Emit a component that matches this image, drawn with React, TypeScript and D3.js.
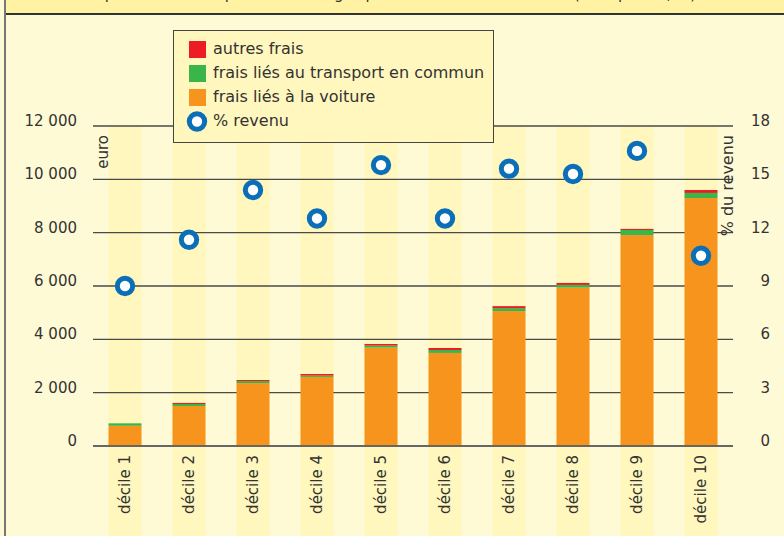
import * as d3 from 'd3'

const deciles = ['décile 1', 'décile 2', 'décile 3', 'décile 4', 'décile 5', 'décile 6', 'décile 7', 'décile 8', 'décile 9', 'décile 10']
const fraisVoiture = [760, 1500, 2360, 2590, 3690, 3490, 5060, 5940, 7910, 9300]
const fraisTransportCommun = [90, 75, 75, 50, 75, 110, 110, 100, 190, 190]
const autresFrais = [0, 40, 40, 60, 60, 75, 75, 75, 40, 110]
const pctRevenu = [9.0, 11.6, 14.4, 12.8, 15.8, 12.8, 15.6, 15.3, 16.6, 10.7]

const euroTicks = [0, 2000, 4000, 6000, 8000, 10000, 12000]
const pctTicks = [0, 3, 6, 9, 12, 15, 18]

const seriesKeys = ['voiture', 'commun', 'autres']
const seriesColors: Record<string, string> = { voiture: '#F7941E', commun: '#39B54A', autres: '#ED1C24' }
const legendItems = [
  { label: 'autres frais', color: '#ED1C24' },
  { label: 'frais liés au transport en commun', color: '#39B54A' },
  { label: 'frais liés à la voiture', color: '#F7941E' }
]

const W = 784
const H = 536
const FONT = "'DejaVu Sans', Verdana, sans-serif"
const BLUE = '#0B6FB8'

const fr = d3.formatLocale({ decimal: ',', thousands: '\u00a0', grouping: [3], currency: ['', ' €'] })
const fmt = fr.format(',')

export default function App() {
  const margin = { left: 93, right: 51, top: 126, bottom: 90 }
  const x = d3.scaleBand<string>()
    .domain(deciles)
    .range([margin.left, W - margin.right])
    .paddingInner(0.484)
    .paddingOuter(0.242)
  const y = d3.scaleLinear().domain([0, 12000]).range([H - margin.bottom, margin.top])
  const y2 = d3.scaleLinear().domain([0, 18]).range([H - margin.bottom, margin.top])

  const rows = deciles.map((d, i) => ({
    decile: d,
    voiture: fraisVoiture[i],
    commun: fraisTransportCommun[i],
    autres: autresFrais[i]
  }))
  const stacked = d3.stack<any>().keys(seriesKeys)(rows)

  return (
    <svg width={W} height={H} style={{ position: 'absolute', left: 0, top: 0, fontFamily: FONT }}>
      <rect x={0} y={0} width={W} height={H} fill="#FFFAD6" />
      {/* title band, cut off at the top in the original */}
      <rect x={5} y={0} width={W - 5} height={14} fill="#FFF3A3" />
      <text x={390} y={-1.5} textAnchor="middle" fontSize={15} fill="#333">
        Dépenses de transport des ménages par décile de niveau de vie (euro par an, %)
      </text>
      <line x1={5} x2={W} y1={14} y2={14} stroke="#333" strokeWidth={2} />
      <line x1={5} x2={5} y1={0} y2={H} stroke="#777" strokeWidth={2} />

      {/* decile stripes */}
      {deciles.map(d => (
        <rect key={d} x={x(d)} y={margin.top} width={x.bandwidth()} height={H - margin.top} fill="#FFF7BE" />
      ))}

      {/* grid */}
      {euroTicks.map(t => (
        <g key={t}>
          <line x1={margin.left} x2={W - margin.right} y1={y(t)} y2={y(t)}
            stroke={t === 0 ? '#666' : '#4a4a4a'} strokeWidth={t === 0 ? 2 : 1.4} />
          <text x={77} y={y(t)} textAnchor="end" fontSize={15} fill="#333">{fmt(t)}</text>
        </g>
      ))}
      {pctTicks.map(t => (
        <text key={t} x={770} y={y2(t)} textAnchor="end" fontSize={15} fill="#333">{t}</text>
      ))}

      {/* bars */}
      {stacked.map(s => (
        <g key={s.key} fill={seriesColors[s.key]}>
          {s.map((p, i) => (
            <rect key={i} x={x(deciles[i])} y={y(p[1])} width={x.bandwidth()} height={Math.max(0, y(p[0]) - y(p[1]))} />
          ))}
        </g>
      ))}
      <line x1={margin.left} x2={W - margin.right} y1={y(0)} y2={y(0)} stroke="#666" strokeWidth={2} />

      {/* % revenu markers */}
      {pctRevenu.map((v, i) => (
        <circle key={i} cx={(x(deciles[i]) ?? 0) + x.bandwidth() / 2} cy={y2(v)} r={7.7}
          fill="#fff" stroke={BLUE} strokeWidth={5} />
      ))}

      {/* axis titles */}
      <text transform={`translate(${103 + 5},135) rotate(-90)`} textAnchor="end" fontSize={15} fill="#333">euro</text>
      <text transform={`translate(${728 + 5},135) rotate(-90)`} textAnchor="end" fontSize={16} fill="#333">% du revenu</text>

      {/* category labels */}
      {deciles.map(d => (
        <text key={d} transform={`translate(${(x(d) ?? 0) + x.bandwidth() / 2 + 5},455) rotate(-90)`}
          textAnchor="end" fontSize={15} fill="#333">{d}</text>
      ))}

      {/* legend */}
      <rect x={173.5} y={30.5} width={320} height={112} fill="#FFF7BD" stroke="#444" strokeWidth={1} />
      {legendItems.map((it, i) => (
        <g key={it.label}>
          <rect x={189} y={41 + i * 24} width={17} height={17} fill={it.color} />
          <text x={213} y={54 + i * 24} fontSize={16} fill="#333">{it.label}</text>
        </g>
      ))}
      <circle cx={197} cy={121.5} r={7.7} fill="#fff" stroke={BLUE} strokeWidth={5} />
      <text x={213} y={126} fontSize={16} fill="#333">% revenu</text>
    </svg>
  )
}
